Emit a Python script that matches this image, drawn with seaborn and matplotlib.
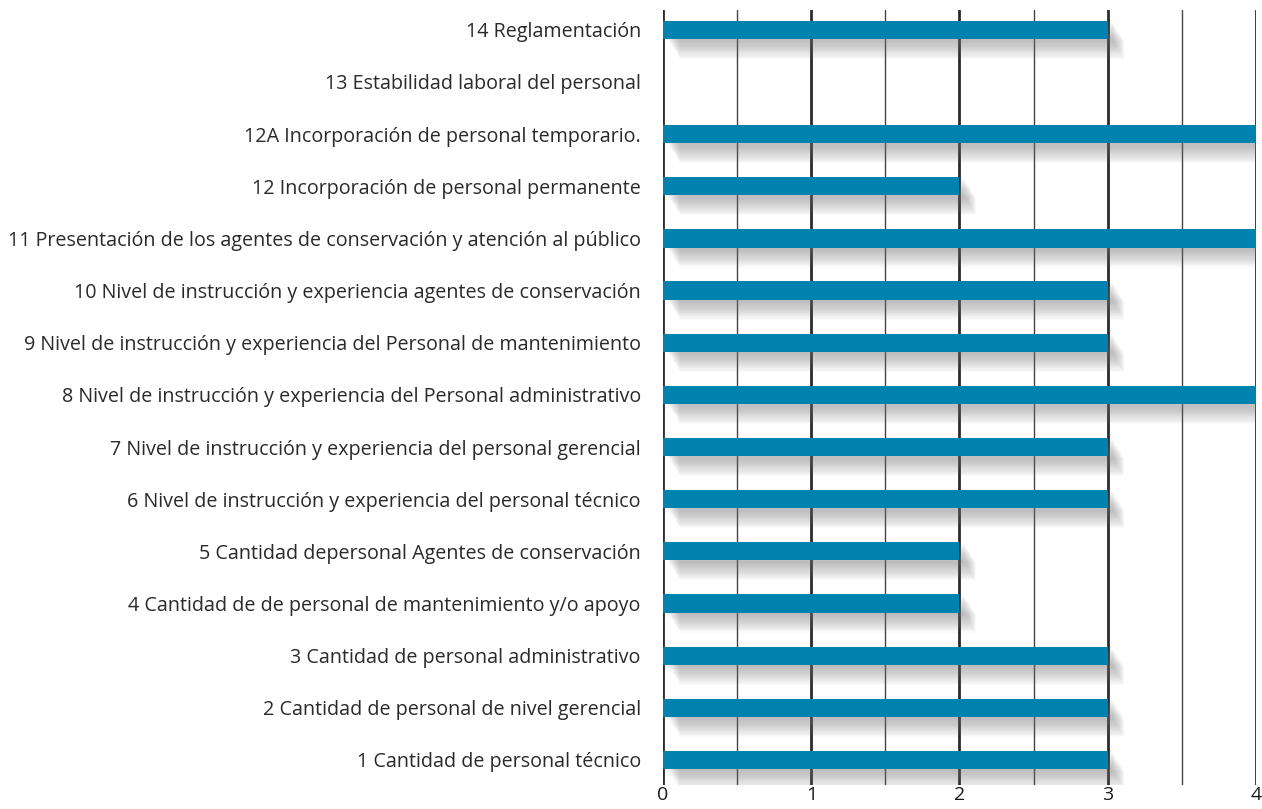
import numpy as np
import pandas as pd
import matplotlib
matplotlib.use("Agg")
import matplotlib.pyplot as plt
import matplotlib.patheffects as pe
import seaborn as sns

# Data (top to bottom as shown)
labels = [
    "14 Reglamentación",
    "13 Estabilidad laboral del personal",
    "12A Incorporación de personal temporario.",
    "12 Incorporación de personal permanente",
    "11 Presentación de los agentes de conservación y atención al público",
    "10 Nivel de instrucción y experiencia agentes de conservación",
    "9 Nivel de instrucción y experiencia del Personal de mantenimiento",
    "8 Nivel de instrucción y experiencia del Personal administrativo",
    "7 Nivel de instrucción y experiencia del personal gerencial",
    "6 Nivel de instrucción y experiencia del personal técnico",
    "5 Cantidad depersonal Agentes de conservación",
    "4 Cantidad de de personal de mantenimiento y/o apoyo",
    "3 Cantidad de personal administrativo",
    "2 Cantidad de personal de nivel gerencial",
    "1 Cantidad de personal técnico",
]
values = [3, 0, 4, 2, 4, 3, 3, 4, 3, 3, 2, 2, 3, 3, 3]
x_ticks = [0, 1, 2, 3, 4]

df = pd.DataFrame({"item": labels, "score": values})

sns.set_style("white")
plt.rcParams["font.family"] = ["Open Sans", "DejaVu Sans"]

fig = plt.figure(figsize=(12.62, 8.09), dpi=100)
ax = fig.add_axes([0.5254, 0.0297, 0.4698, 0.958])

# grid lines (drawn under the bars)
for x in np.arange(0, 4.01, 0.5):
    major = float(x).is_integer()
    ax.axvline(x, color="#2b2b2b" if major else "#444444",
               lw=2.0 if major else 1.0, zorder=0)

sns.barplot(data=df, x="score", y="item", orient="h", color="#0082ae",
            saturation=1, width=0.35, ax=ax, zorder=2,
            edgecolor="none", linewidth=0)

# soft drop shadow: many faint offset copies
shadow = [pe.SimplePatchShadow(offset=(3 + k * 0.5, -0.8 * k),
                               shadow_rgbFace="#7a7a7a", alpha=0.035)
          for k in range(1, 19)]
for bar in ax.patches:
    if bar.get_width() > 0:
        bar.set_path_effects(shadow + [pe.Normal()])

ax.set_xlim(0, 4)
ax.set_ylim(len(labels) - 1 + 0.48, -0.38)
ax.set_xticks(x_ticks)
ax.set_xticklabels([str(t) for t in x_ticks], fontsize=14, color="#1a1a1a")
ax.set_xlabel("")
ax.set_ylabel("")
ax.tick_params(axis="y", length=0, pad=16, labelsize=14.2, labelcolor="#2a2a2a")
ax.tick_params(axis="x", length=0, pad=1)
for s in ax.spines.values():
    s.set_visible(False)

fig.savefig("out.png", dpi=100)
